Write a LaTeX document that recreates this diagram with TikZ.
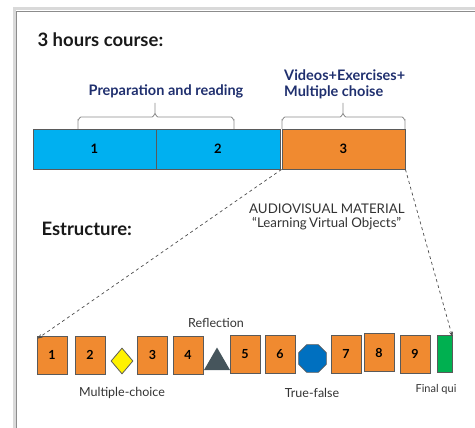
\documentclass[tikz,border=0pt]{standalone}
\usepackage{fontspec}
\setmainfont{Lato}
\usetikzlibrary{shapes.geometric,arrows.meta}
\definecolor{cblue}{HTML}{00B0F0}
\definecolor{corange}{HTML}{F08A30}
\definecolor{cnavy}{HTML}{1F2F6E}
\definecolor{cgreen}{HTML}{00B050}
\definecolor{coct}{HTML}{0070C0}
\definecolor{ctri}{HTML}{46555C}
\definecolor{cedge}{HTML}{5A5A5A}
\tikzset{
  bigbox/.style={draw=cedge, line width=0.9pt, minimum height=40pt, inner sep=0pt, font=\bfseries\fontsize{13}{15}\selectfont},
  smallbox/.style={draw=cedge, line width=0.8pt, fill=corange, minimum width=30pt, minimum height=38pt, inner sep=0pt, font=\bfseries\fontsize{12.5}{14}\selectfont},
  bluelabel/.style={text=cnavy, font=\bfseries\fontsize{14.5}{16.5}\selectfont, align=left},
  plain/.style={text=black!80, font=\fontsize{12.5}{14}\selectfont, align=left},
  heading/.style={text=black!90, font=\bfseries\fontsize{18.5}{20}\selectfont},
  bracestyle/.style={draw=black!45, line width=0.8pt},
  conn/.style={draw=black!70, dashed, line width=0.7pt, -{Stealth[length=5pt,width=4pt]}}
}
\begin{document}
\begin{tikzpicture}[x=1pt,y=-1pt]
\useasboundingbox (0,0) rectangle (475,428);
% panel frame with shadow
\draw[black!15, line width=3pt] (14,440) -- (14,9) -- (490,9);
\draw[black!45, line width=0.7pt] (16,440) -- (16,11) -- (490,11);

\node[heading, anchor=west] (title) at (34,40) {3 hours course:};

% top bar
\node[bigbox, fill=cblue, minimum width=123pt] (B1) at (94.5,149) {1};
\node[bigbox, fill=cblue, minimum width=124pt] (B2) at (218,149) {2};
\node[bigbox, fill=corange, minimum width=123pt] (B3) at (343.5,149) {3};

% braces
\draw[bracestyle] (78,129) -- (78,120) to[out=-90,in=180] (81,117) -- (152,117) to[out=0,in=90] (155,114) -- (155,103)
  (155,114) to[out=90,in=180] (158,117) -- (231,117) to[out=0,in=-90] (234,120) -- (234,129);
\draw[bracestyle] (282,129) -- (282,120) to[out=-90,in=180] (285,117) -- (340,117) to[out=0,in=90] (343,114) -- (343,103)
  (343,114) to[out=90,in=180] (346,117) -- (402,117) to[out=0,in=-90] (405,120) -- (405,129);

\node[bluelabel] (prep) at (166,91) {Preparation and reading};
\node[bluelabel, anchor=west, inner sep=0pt] (vid) at (284,84.5) {Videos+Exercises+\\[-1pt]Multiple choise};

\node[plain, anchor=west, inner sep=0pt, font=\fontsize{13.3}{15}\selectfont] (av) at (249,216.5) {AUDIOVISUAL MATERIAL\\[-1pt]\hspace*{3pt}``Learning\,Virtual Objects''};
\node[heading, anchor=west] (estr) at (38,229) {Estructure:};

% bottom row
\node[smallbox] (s1) at (52,355) {1};
\node[smallbox] (s2) at (90,355) {2};
\node[diamond, draw=cedge, line width=0.8pt, fill=yellow, minimum width=22pt, minimum height=26pt, inner sep=0pt] (dia) at (122,361) {};
\node[smallbox] (s3) at (152.5,355) {3};
\node[smallbox] (s4) at (188,355) {4};
\node[regular polygon, regular polygon sides=3, fill=ctri, minimum size=30pt, inner sep=0pt] (tri) at (217,362.5) {};
\node[smallbox] (s5) at (245,354) {5};
\node[smallbox] (s6) at (280,354) {6};
\node[regular polygon, regular polygon sides=8, draw=cedge, line width=0.7pt, fill=coct, minimum size=30pt, inner sep=0pt] (oct) at (312.5,358.5) {};
\node[smallbox] (s7) at (346,354) {7};
\node[smallbox] (s8) at (379,352.5) {8};
\node[smallbox] (s9) at (415,354) {9};
\node[draw=cedge, line width=0.8pt, fill=cgreen, minimum width=15pt, minimum height=37pt, inner sep=0pt] (fin) at (444.5,353.5) {};

\node[plain] (refl) at (216,323) {Reflection};
\node[plain] (mc) at (122,393) {Multiple-choice};
\node[plain] (tf) at (312,393) {True-false};
\node[plain, font=\fontsize{11}{13}\selectfont] (fq) at (436,389) {Final qui};

% connectors
\draw[conn] (B3.south west) -- ([xshift=1pt,yshift=-3pt]s1.north west);
\draw[conn] (B3.south east) -- ([yshift=-2pt]fin.north east);
\end{tikzpicture}
\end{document}
